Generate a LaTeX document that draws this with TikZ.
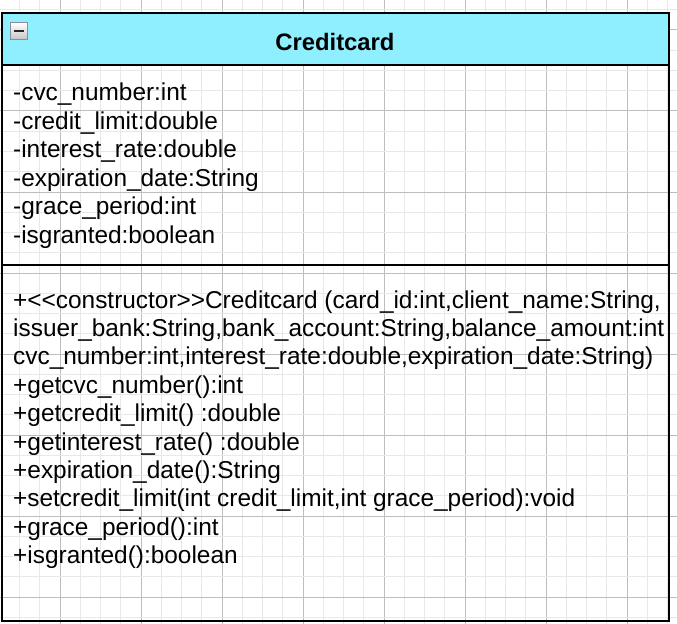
\documentclass[tikz,border=0pt]{standalone}
\usepackage{fontspec}
\setmainfont{Liberation Sans}
\definecolor{gridminor}{HTML}{E8E8E8}
\definecolor{gridmajor}{HTML}{BDBDBD}
\definecolor{headfill}{HTML}{8FEFFF}
\definecolor{iconedge}{HTML}{8C8C9C}
\begin{document}
\begin{tikzpicture}[x=1bp,y=-1bp,
  minorline/.style={draw=gridminor,line width=1bp},
  majorline/.style={draw=gridmajor,line width=1bp},
  classedge/.style={draw=black,line width=2bp},
  member/.style={anchor=base west,inner sep=0pt,
    font=\fontsize{24.4bp}{28bp}\selectfont},
  classtitle/.style={inner sep=0pt,
    font=\fontsize{23.8bp}{28bp}\selectfont\bfseries}]
\useasboundingbox (0,0) rectangle (677,624);
% background grid
\foreach \k in {0,...,33}{
  \pgfmathsetmacro\gx{-0.75+\k*20.25}
  \pgfmathtruncatemacro\m{mod(\k,4)}
  \ifnum\m=3 \draw[majorline] (\gx,0) -- (\gx,624);
  \else \draw[minorline] (\gx,0) -- (\gx,624); \fi
}
\foreach \k in {0,...,30}{
  \pgfmathsetmacro\gy{9.75+\k*20.25}
  \pgfmathtruncatemacro\m{mod(\k,4)}
  \ifnum\m=1 \draw[majorline] (0,\gy) -- (677,\gy);
  \else \draw[minorline] (0,\gy) -- (677,\gy); \fi
}
% class box
\coordinate (nw) at (2,13);
\coordinate (se) at (669,621);
\fill[headfill] (nw) rectangle (669,65);
\draw[classedge] (2,65) -- (669,65);
\draw[classedge] (2,265) -- (669,265);
\draw[classedge] (nw) rectangle (se);
% collapse button
\shade[top color=white,bottom color=gray!45,draw=iconedge,line width=1.5bp]
  (10.5,22.5) rectangle (27.5,39.5);
\draw[line width=2.2bp,black!85] (14,31) -- (24,31);
% title
\node[classtitle] (title) at (335,42) {Creditcard};
% attributes
\node[member] (a1) at (13,101) {-cvc\_number:int};
\node[member] (a2) at (13,129.4) {-credit\_limit:double};
\node[member] (a3) at (13,157.8) {-interest\_rate:double};
\node[member] (a4) at (13,186.2) {-expiration\_date:String};
\node[member] (a5) at (13,214.6) {-grace\_period:int};
\node[member] (a6) at (13,243) {-isgranted:boolean};
% operations
\node[member] (o1) at (13,308) {+<{}<constructor>{}>Creditcard (card\_id:int,client\_name:String,};
\node[member] (o2) at (13,336.4) {issuer\_bank:String,bank\_account:String,balance\_amount:int};
\node[member] (o3) at (13,364.8) {cvc\_number:int,interest\_rate:double,expiration\_date:String)};
\node[member] (o4) at (13,393.2) {+getcvc\_number():int};
\node[member] (o5) at (13,421.6) {+getcredit\_limit() :double};
\node[member] (o6) at (13,450) {+getinterest\_rate() :double};
\node[member] (o7) at (13,478.4) {+expiration\_date():String};
\node[member] (o8) at (13,506.8) {+setcredit\_limit(int credit\_limit,int grace\_period):void};
\node[member] (o9) at (13,535.2) {+grace\_period():int};
\node[member] (o10) at (13,563.6) {+isgranted():boolean};
\end{tikzpicture}
\end{document}
